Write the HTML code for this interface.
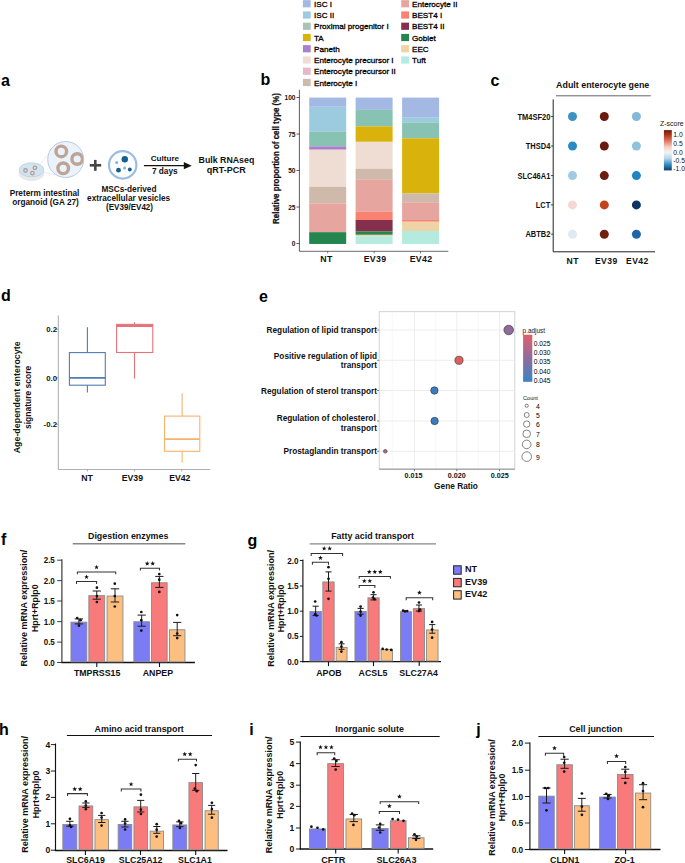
<!DOCTYPE html>
<html><head><meta charset="utf-8"><style>
html,body{margin:0;padding:0;background:#fff;width:685px;height:863px;overflow:hidden}
svg{display:block}
text{font-family:"Liberation Sans", sans-serif}
</style></head><body>
<svg width="685" height="863" viewBox="0 0 685 863">
<rect width="685" height="863" fill="#fff"/>
<text transform="translate(1.0 85.6)" font-size="16" font-weight="bold" text-anchor="start" fill="#000" >a</text>
<text transform="translate(260.5 85.4)" font-size="16" font-weight="bold" text-anchor="start" fill="#000" >b</text>
<text transform="translate(490.4 86.3)" font-size="16" font-weight="bold" text-anchor="start" fill="#000" >c</text>
<text transform="translate(1.0 301.4)" font-size="16" font-weight="bold" text-anchor="start" fill="#000" >d</text>
<text transform="translate(259.0 301.9)" font-size="16" font-weight="bold" text-anchor="start" fill="#000" >e</text>
<text transform="translate(0.9 544.7)" font-size="16" font-weight="bold" text-anchor="start" fill="#000" >f</text>
<text transform="translate(247.6 546.0)" font-size="16" font-weight="bold" text-anchor="start" fill="#000" >g</text>
<text transform="translate(-1.0 735.2)" font-size="16" font-weight="bold" text-anchor="start" fill="#000" >h</text>
<text transform="translate(249.2 735.2)" font-size="16" font-weight="bold" text-anchor="start" fill="#000" >i</text>
<text transform="translate(476.3 735.2)" font-size="16" font-weight="bold" text-anchor="start" fill="#000" >j</text>
<g>
<ellipse cx="31.5" cy="173.6" rx="12.4" ry="7.1" fill="#e9e9ea" stroke="#dcdcdc" stroke-width="0.5"/>
<ellipse cx="31.5" cy="169.8" rx="12.3" ry="7.0" fill="#d3e4f1" stroke="#aecbe2" stroke-width="0.7"/>
<circle cx="25.5" cy="170.5" r="1.75" fill="none" stroke="#b99d8d" stroke-width="1.3"/>
<circle cx="32.4" cy="173.2" r="1.75" fill="none" stroke="#b99d8d" stroke-width="1.3"/>
<circle cx="34.9" cy="167.8" r="1.75" fill="none" stroke="#b99d8d" stroke-width="1.3"/>
<line x1="40.1" y1="164.3" x2="48.5" y2="154.0" stroke="#c5ccd6" stroke-width="0.55" stroke-dasharray="1.2 0.5"/>
<line x1="44.2" y1="172.2" x2="56.5" y2="175.2" stroke="#c5ccd6" stroke-width="0.55" stroke-dasharray="1.2 0.5"/>
<circle cx="65.7" cy="159.5" r="18" fill="#eaf2fb" stroke="#9fb8d4" stroke-width="0.7"/>
<clipPath id="bc"><circle cx="65.7" cy="159.5" r="17.6"/></clipPath>
<g clip-path="url(#bc)">
<circle cx="61.3" cy="151.4" r="5.3" fill="none" stroke="#bea494" stroke-width="3.4"/>
<circle cx="77.2" cy="159" r="5.3" fill="none" stroke="#bea494" stroke-width="3.4"/>
<circle cx="63.2" cy="168.3" r="5.3" fill="none" stroke="#bea494" stroke-width="3.4"/>
</g>
<rect x="89.8" y="164.0" width="11.4" height="2.6" fill="#474747" />
<rect x="94.0" y="159.9" width="2.6" height="10.9" fill="#474747" />
<circle cx="122.7" cy="164.9" r="13.7" fill="#fdfeff" stroke="#9dbbe3" stroke-width="2.2"/>
<circle cx="124.8" cy="159.2" r="3.2" fill="#115f93" />
<circle cx="116.7" cy="162.5" r="1.5" fill="#86b3d3" />
<circle cx="118.5" cy="170.2" r="2.4" fill="#115f93" />
<circle cx="124.6" cy="167.9" r="1.5" fill="#86b3d3" />
<circle cx="129.8" cy="169.5" r="1.9" fill="#115f93" />
<line x1="143.9" y1="165.7" x2="184.5" y2="165.7" stroke="#111" stroke-width="1.3" />
<path d="M183.8 162.1 L191.7 165.7 L183.8 169.3 Z" fill="#111"/>
</g>
<text transform="translate(44.5 195.9)" font-size="8.25" font-weight="bold" text-anchor="middle" fill="#111" >Preterm intestinal</text>
<text transform="translate(45.5 204.6)" font-size="8.25" font-weight="bold" text-anchor="middle" fill="#111" >organoid (GA 27)</text>
<text transform="translate(128.9 191.6)" font-size="8.25" font-weight="bold" text-anchor="middle" fill="#111" >MSCs-derived</text>
<text transform="translate(128.6 200.6)" font-size="8.25" font-weight="bold" text-anchor="middle" fill="#111" >extracellular vesicles</text>
<text transform="translate(129.5 209.9) scale(0.94 1)" font-size="8.6" font-weight="bold" text-anchor="middle" fill="#111" >(EV39/EV42)</text>
<text transform="translate(164.9 161.4)" font-size="8.1" font-weight="bold" text-anchor="middle" fill="#111" >Culture</text>
<text transform="translate(164.8 174.4)" font-size="8.3" font-weight="bold" text-anchor="middle" fill="#111" >7 days</text>
<text transform="translate(226.4 162.5)" font-size="8.8" font-weight="bold" text-anchor="middle" fill="#111" >Bulk RNAseq</text>
<text transform="translate(226.3 173.0)" font-size="9.0" font-weight="bold" text-anchor="middle" fill="#111" >qRT-PCR</text>
<rect x="302.9" y="0.15" width="7.8" height="7.2" fill="#a3b9e3" />
<text transform="translate(314 6.75)" font-size="8.1" font-weight="normal" text-anchor="start" fill="#000" stroke="#000" stroke-width="0.3">ISC I</text>
<rect x="302.9" y="11.4" width="7.8" height="7.2" fill="#9ccbdf" />
<text transform="translate(314 18.0)" font-size="8.1" font-weight="normal" text-anchor="start" fill="#000" stroke="#000" stroke-width="0.3">ISC II</text>
<rect x="302.9" y="22.65" width="7.8" height="7.2" fill="#a7c4b8" />
<text transform="translate(314 29.25)" font-size="8.1" font-weight="normal" text-anchor="start" fill="#000" stroke="#000" stroke-width="0.3">Proximal progenitor I</text>
<rect x="302.9" y="33.9" width="7.8" height="7.2" fill="#d9b30b" />
<text transform="translate(314 40.5)" font-size="8.1" font-weight="normal" text-anchor="start" fill="#000" stroke="#000" stroke-width="0.3">TA</text>
<rect x="302.9" y="45.15" width="7.8" height="7.2" fill="#a880cb" />
<text transform="translate(314 51.75)" font-size="8.1" font-weight="normal" text-anchor="start" fill="#000" stroke="#000" stroke-width="0.3">Paneth</text>
<rect x="302.9" y="56.4" width="7.8" height="7.2" fill="#efdcd3" />
<text transform="translate(314 63.0)" font-size="8.1" font-weight="normal" text-anchor="start" fill="#000" stroke="#000" stroke-width="0.3">Enterocyte precursor I</text>
<rect x="302.9" y="67.65" width="7.8" height="7.2" fill="#e8b8c9" />
<text transform="translate(314 74.25)" font-size="8.1" font-weight="normal" text-anchor="start" fill="#000" stroke="#000" stroke-width="0.3">Enterocyte precursor II</text>
<rect x="302.9" y="78.9" width="7.8" height="7.2" fill="#cfb9aa" />
<text transform="translate(314 85.5)" font-size="8.1" font-weight="normal" text-anchor="start" fill="#000" stroke="#000" stroke-width="0.3">Enterocyte I</text>
<rect x="401.2" y="0.15" width="7.8" height="7.2" fill="#e6a59f" />
<text transform="translate(412 6.75)" font-size="8.1" font-weight="normal" text-anchor="start" fill="#000" stroke="#000" stroke-width="0.3">Enterocyte II</text>
<rect x="401.2" y="11.4" width="7.8" height="7.2" fill="#f98171" />
<text transform="translate(412 18.0)" font-size="8.1" font-weight="normal" text-anchor="start" fill="#000" stroke="#000" stroke-width="0.3">BEST4 I</text>
<rect x="401.2" y="22.65" width="7.8" height="7.2" fill="#842f4c" />
<text transform="translate(412 29.25)" font-size="8.1" font-weight="normal" text-anchor="start" fill="#000" stroke="#000" stroke-width="0.3">BEST4 II</text>
<rect x="401.2" y="33.9" width="7.8" height="7.2" fill="#24854f" />
<text transform="translate(412 40.5)" font-size="8.1" font-weight="normal" text-anchor="start" fill="#000" stroke="#000" stroke-width="0.3">Goblet</text>
<rect x="401.2" y="45.15" width="7.8" height="7.2" fill="#edd3a6" />
<text transform="translate(412 51.75)" font-size="8.1" font-weight="normal" text-anchor="start" fill="#000" stroke="#000" stroke-width="0.3">EEC</text>
<rect x="401.2" y="56.4" width="7.8" height="7.2" fill="#b5ebdf" />
<text transform="translate(412 63.0)" font-size="8.1" font-weight="normal" text-anchor="start" fill="#000" stroke="#000" stroke-width="0.3">Tuft</text>
<line x1="299.4" y1="89.8" x2="299.4" y2="251.3" stroke="#333" stroke-width="0.8" />
<line x1="299.4" y1="251.3" x2="448.3" y2="251.3" stroke="#444" stroke-width="0.8" />
<line x1="327.7" y1="251.3" x2="327.7" y2="253.3" stroke="#444" stroke-width="0.7" />
<line x1="374.2" y1="251.3" x2="374.2" y2="253.3" stroke="#444" stroke-width="0.7" />
<line x1="420.6" y1="251.3" x2="420.6" y2="253.3" stroke="#444" stroke-width="0.7" />
<line x1="296.5" y1="243.5" x2="299.4" y2="243.5" stroke="#333" stroke-width="0.8" />
<text transform="translate(295.5 246.0) scale(0.92 1)" font-size="7.2" font-weight="bold" text-anchor="end" fill="#111" >0</text>
<line x1="296.5" y1="207.0" x2="299.4" y2="207.0" stroke="#333" stroke-width="0.8" />
<text transform="translate(295.5 209.5) scale(0.92 1)" font-size="7.2" font-weight="bold" text-anchor="end" fill="#111" >25</text>
<line x1="296.5" y1="170.5" x2="299.4" y2="170.5" stroke="#333" stroke-width="0.8" />
<text transform="translate(295.5 173.0) scale(0.92 1)" font-size="7.2" font-weight="bold" text-anchor="end" fill="#111" >50</text>
<line x1="296.5" y1="134.0" x2="299.4" y2="134.0" stroke="#333" stroke-width="0.8" />
<text transform="translate(295.5 136.5) scale(0.92 1)" font-size="7.2" font-weight="bold" text-anchor="end" fill="#111" >75</text>
<line x1="296.5" y1="97.5" x2="299.4" y2="97.5" stroke="#333" stroke-width="0.8" />
<text transform="translate(295.5 100.0) scale(0.92 1)" font-size="7.2" font-weight="bold" text-anchor="end" fill="#111" >100</text>
<text transform="translate(279.3 158.5) rotate(-90) scale(0.845 1)" font-size="9.4" font-weight="bold" text-anchor="middle" fill="#111" stroke="#111" stroke-width="0.25">Relative proportion of cell type (%)</text>
<rect x="309.2" y="97.6" width="37" height="9.15" fill="#a3b9e3" />
<rect x="309.2" y="106.7" width="37" height="24.85" fill="#9ccbdf" />
<rect x="309.2" y="131.5" width="37" height="14.95" fill="#88c2b2" />
<rect x="309.2" y="146.4" width="37" height="3.35" fill="#a880cb" />
<rect x="309.2" y="149.7" width="37" height="37.25" fill="#efdcd3" />
<rect x="309.2" y="186.9" width="37" height="16.65" fill="#cfb9aa" />
<rect x="309.2" y="203.5" width="37" height="28.75" fill="#e6a59f" />
<rect x="309.2" y="232.2" width="37" height="11.75" fill="#24854f" />
<rect x="355.6" y="97.6" width="37" height="12.25" fill="#a3b9e3" />
<rect x="355.6" y="109.8" width="37" height="16.65" fill="#88c2b2" />
<rect x="355.6" y="126.4" width="37" height="15.45" fill="#d9b30b" />
<rect x="355.6" y="141.8" width="37" height="27.15" fill="#efdcd3" />
<rect x="355.6" y="168.9" width="37" height="10.75" fill="#cfb9aa" />
<rect x="355.6" y="179.6" width="37" height="32.05" fill="#e6a59f" />
<rect x="355.6" y="211.6" width="37" height="8.45" fill="#f98171" />
<rect x="355.6" y="220" width="37" height="11.55" fill="#842f4c" />
<rect x="355.6" y="231.5" width="37" height="3.35" fill="#24854f" />
<rect x="355.6" y="234.8" width="37" height="1.65" fill="#edd3a6" />
<rect x="355.6" y="236.4" width="37" height="7.55" fill="#b5ebdf" />
<rect x="402.1" y="97.6" width="37" height="19.65" fill="#a3b9e3" />
<rect x="402.1" y="117.2" width="37" height="5.45" fill="#9ccbdf" />
<rect x="402.1" y="122.6" width="37" height="15.75" fill="#88c2b2" />
<rect x="402.1" y="138.3" width="37" height="55.15" fill="#d9b30b" />
<rect x="402.1" y="193.4" width="37" height="8.95" fill="#cfb9aa" />
<rect x="402.1" y="202.3" width="37" height="17.75" fill="#e6a59f" />
<rect x="402.1" y="220" width="37" height="1.75" fill="#f98171" />
<rect x="402.1" y="221.7" width="37" height="9.35" fill="#edd3a6" />
<rect x="402.1" y="231" width="37" height="12.95" fill="#b5ebdf" />
<text transform="translate(326.5 262.0)" font-size="8.8" font-weight="bold" text-anchor="middle" fill="#111" letter-spacing="0.3">NT</text>
<text transform="translate(375.0 262.0)" font-size="8.8" font-weight="bold" text-anchor="middle" fill="#111" letter-spacing="0.3">EV39</text>
<text transform="translate(421.0 262.0)" font-size="8.8" font-weight="bold" text-anchor="middle" fill="#111" letter-spacing="0.3">EV42</text>
<text transform="translate(602.7 88.2)" font-size="8.9" font-weight="bold" text-anchor="middle" fill="#111" >Adult enterocyte gene</text>
<line x1="556" y1="95.8" x2="650.8" y2="95.8" stroke="#666" stroke-width="1" />
<line x1="553.2" y1="99.3" x2="553.2" y2="251.8" stroke="#222" stroke-width="1" />
<line x1="553.2" y1="251.8" x2="655.1" y2="251.8" stroke="#222" stroke-width="1" />
<text transform="translate(550.3 119.5) scale(0.87 1)" font-size="8.6" font-weight="bold" text-anchor="end" fill="#111" >TM4SF20</text>
<line x1="550.8" y1="116.5" x2="553.2" y2="116.5" stroke="#222" stroke-width="0.8" />
<circle cx="572.5" cy="116.5" r="4.5" fill="#3b93c4" />
<circle cx="604.3" cy="116.5" r="4.5" fill="#6a1a0e" />
<circle cx="636.4" cy="116.5" r="4.5" fill="#82b8d7" />
<text transform="translate(550.3 149.0) scale(0.87 1)" font-size="8.6" font-weight="bold" text-anchor="end" fill="#111" >THSD4</text>
<line x1="550.8" y1="146" x2="553.2" y2="146" stroke="#222" stroke-width="0.8" />
<circle cx="572.5" cy="146" r="4.5" fill="#2a8bc3" />
<circle cx="604.3" cy="146" r="4.5" fill="#6b1a10" />
<circle cx="636.4" cy="146" r="4.5" fill="#90c1dd" />
<text transform="translate(550.3 178.6) scale(0.87 1)" font-size="8.6" font-weight="bold" text-anchor="end" fill="#111" >SLC46A1</text>
<line x1="550.8" y1="175.6" x2="553.2" y2="175.6" stroke="#222" stroke-width="0.8" />
<circle cx="572.5" cy="175.6" r="4.5" fill="#a1c9e1" />
<circle cx="604.3" cy="175.6" r="4.5" fill="#6d1c10" />
<circle cx="636.4" cy="175.6" r="4.5" fill="#1f86c1" />
<text transform="translate(550.3 207.9) scale(0.87 1)" font-size="8.6" font-weight="bold" text-anchor="end" fill="#111" >LCT</text>
<line x1="550.8" y1="204.9" x2="553.2" y2="204.9" stroke="#222" stroke-width="0.8" />
<circle cx="572.5" cy="204.9" r="4.5" fill="#f4d8d3" />
<circle cx="604.3" cy="204.9" r="4.5" fill="#c2421b" />
<circle cx="636.4" cy="204.9" r="4.5" fill="#0c3563" />
<text transform="translate(550.3 237.2) scale(0.87 1)" font-size="8.6" font-weight="bold" text-anchor="end" fill="#111" >ABTB2</text>
<line x1="550.8" y1="234.2" x2="553.2" y2="234.2" stroke="#222" stroke-width="0.8" />
<circle cx="572.5" cy="234.2" r="4.5" fill="#dfe9f2" />
<circle cx="604.3" cy="234.2" r="4.5" fill="#73200f" />
<circle cx="636.4" cy="234.2" r="4.5" fill="#1e66a7" />
<text transform="translate(572.7 263.8)" font-size="8.6" font-weight="bold" text-anchor="middle" fill="#111" letter-spacing="0.45">NT</text>
<text transform="translate(606.3 263.8)" font-size="8.6" font-weight="bold" text-anchor="middle" fill="#111" letter-spacing="0.45">EV39</text>
<text transform="translate(637.4 263.8)" font-size="8.6" font-weight="bold" text-anchor="middle" fill="#111" letter-spacing="0.45">EV42</text>
<defs><linearGradient id="zg" x1="0" y1="0" x2="0" y2="1"><stop offset="0" stop-color="#6b1a0e"/><stop offset="0.12" stop-color="#b2341c"/><stop offset="0.27" stop-color="#de7a63"/><stop offset="0.42" stop-color="#f6cfc3"/><stop offset="0.55" stop-color="#f3f3f3"/><stop offset="0.70" stop-color="#b8d6e8"/><stop offset="0.84" stop-color="#3f93c5"/><stop offset="1" stop-color="#0a3b70"/></linearGradient><linearGradient id="pg" x1="0" y1="0" x2="0" y2="1"><stop offset="0" stop-color="#e2606b"/><stop offset="0.5" stop-color="#8e6d9d"/><stop offset="1" stop-color="#3a83c5"/></linearGradient></defs>
<rect x="663.9" y="130.1" width="7.9" height="40.3" fill="url(#zg)" />
<text transform="translate(659.9 125.9)" font-size="7.0" font-weight="normal" text-anchor="start" fill="#111" >Z-score</text>
<text transform="translate(673.3 137.0)" font-size="6.8" font-weight="normal" text-anchor="start" fill="#111" >1.0</text>
<text transform="translate(673.3 146.0)" font-size="6.8" font-weight="normal" text-anchor="start" fill="#111" >0.5</text>
<text transform="translate(673.3 154.9)" font-size="6.8" font-weight="normal" text-anchor="start" fill="#111" >0.0</text>
<text transform="translate(673.3 163.0)" font-size="6.8" font-weight="normal" text-anchor="start" fill="#111" >-0.5</text>
<text transform="translate(673.3 171.10000000000002)" font-size="6.8" font-weight="normal" text-anchor="start" fill="#111" >-1.0</text>
<line x1="58.3" y1="315.5" x2="58.3" y2="469.5" stroke="#a8a8a8" stroke-width="1" />
<line x1="58.3" y1="469.5" x2="210.3" y2="469.5" stroke="#b0b0b0" stroke-width="1.1" />
<line x1="55.8" y1="329.3" x2="58.3" y2="329.3" stroke="#999" stroke-width="0.8" />
<text transform="translate(57.0 332.1)" font-size="7.8" font-weight="bold" text-anchor="end" fill="#111" >0.2</text>
<line x1="55.8" y1="377.9" x2="58.3" y2="377.9" stroke="#999" stroke-width="0.8" />
<text transform="translate(57.0 380.7)" font-size="7.8" font-weight="bold" text-anchor="end" fill="#111" >0.0</text>
<line x1="55.8" y1="424.4" x2="58.3" y2="424.4" stroke="#999" stroke-width="0.8" />
<text transform="translate(57.0 427.2)" font-size="7.8" font-weight="bold" text-anchor="end" fill="#111" >-0.2</text>
<g stroke="#4f7db4" fill="none" stroke-width="1.1">
<line x1="87.4" y1="327.3" x2="87.4" y2="352.6"/><line x1="87.4" y1="385.2" x2="87.4" y2="392.4"/>
<rect x="69.4" y="352.6" width="35.89999999999999" height="32.599999999999966"/>
<line x1="69.4" y1="377.9" x2="105.3" y2="377.9" stroke-width="1.8"/>
</g>
<g stroke="#e5727a" fill="none" stroke-width="1.1">
<line x1="134.5" y1="322.2" x2="134.5" y2="324.4"/><line x1="134.5" y1="352.5" x2="134.5" y2="378.6"/>
<rect x="116.6" y="324.4" width="36.20000000000002" height="28.100000000000023"/>
<line x1="116.6" y1="326.0" x2="152.8" y2="326.0" stroke-width="2.2"/>
</g>
<g stroke="#f8b26c" fill="none" stroke-width="1.1">
<line x1="182.1" y1="393.3" x2="182.1" y2="416.1"/><line x1="182.1" y1="451.3" x2="182.1" y2="462.4"/>
<rect x="164.5" y="416.1" width="35.30000000000001" height="35.19999999999999"/>
<line x1="164.5" y1="439.1" x2="199.8" y2="439.1" stroke-width="1.8"/>
</g>
<line x1="87.4" y1="469.5" x2="87.4" y2="471.5" stroke="#999" stroke-width="0.8" />
<text transform="translate(87 480.6)" font-size="8.7" font-weight="bold" text-anchor="middle" fill="#111" >NT</text>
<line x1="134.4" y1="469.5" x2="134.4" y2="471.5" stroke="#999" stroke-width="0.8" />
<text transform="translate(132.4 480.6)" font-size="8.7" font-weight="bold" text-anchor="middle" fill="#111" >EV39</text>
<line x1="181.8" y1="469.5" x2="181.8" y2="471.5" stroke="#999" stroke-width="0.8" />
<text transform="translate(179.8 480.6)" font-size="8.7" font-weight="bold" text-anchor="middle" fill="#111" >EV42</text>
<text transform="translate(19.5 397.4) rotate(-90)" font-size="8.9" font-weight="bold" text-anchor="middle" fill="#111" >Age-dependent enterocyte</text>
<text transform="translate(31 397.4) rotate(-90)" font-size="8.5" font-weight="bold" text-anchor="middle" fill="#111" >signature score</text>
<rect x="379.2" y="311.7" width="135.6" height="157.3" fill="#fff" stroke="#c8c8c8" stroke-width="0.8"/>
<line x1="392.2" y1="312" x2="392.2" y2="469" stroke="#f2f2f2" stroke-width="0.6" />
<line x1="435.7" y1="312" x2="435.7" y2="469" stroke="#f2f2f2" stroke-width="0.6" />
<line x1="478.2" y1="312" x2="478.2" y2="469" stroke="#f2f2f2" stroke-width="0.6" />
<line x1="414.4" y1="312" x2="414.4" y2="469" stroke="#e8e8e8" stroke-width="0.8" />
<line x1="456.8" y1="312" x2="456.8" y2="469" stroke="#e8e8e8" stroke-width="0.8" />
<line x1="499.5" y1="312" x2="499.5" y2="469" stroke="#e8e8e8" stroke-width="0.8" />
<line x1="379.2" y1="330.0" x2="514.8" y2="330.0" stroke="#e8e8e8" stroke-width="0.8" />
<line x1="377.2" y1="330.0" x2="379.2" y2="330.0" stroke="#555" stroke-width="0.8" />
<line x1="379.2" y1="360.3" x2="514.8" y2="360.3" stroke="#e8e8e8" stroke-width="0.8" />
<line x1="377.2" y1="360.3" x2="379.2" y2="360.3" stroke="#555" stroke-width="0.8" />
<line x1="379.2" y1="390.5" x2="514.8" y2="390.5" stroke="#e8e8e8" stroke-width="0.8" />
<line x1="377.2" y1="390.5" x2="379.2" y2="390.5" stroke="#555" stroke-width="0.8" />
<line x1="379.2" y1="421.0" x2="514.8" y2="421.0" stroke="#e8e8e8" stroke-width="0.8" />
<line x1="377.2" y1="421.0" x2="379.2" y2="421.0" stroke="#555" stroke-width="0.8" />
<line x1="379.2" y1="451.3" x2="514.8" y2="451.3" stroke="#e8e8e8" stroke-width="0.8" />
<line x1="377.2" y1="451.3" x2="379.2" y2="451.3" stroke="#555" stroke-width="0.8" />
<line x1="379.2" y1="469.2" x2="514.8" y2="469.2" stroke="#888" stroke-width="0.9" />
<line x1="414.4" y1="469.2" x2="414.4" y2="471.2" stroke="#555" stroke-width="0.8" />
<line x1="456.8" y1="469.2" x2="456.8" y2="471.2" stroke="#555" stroke-width="0.8" />
<line x1="499.5" y1="469.2" x2="499.5" y2="471.2" stroke="#555" stroke-width="0.8" />
<circle cx="508.7" cy="330" r="4.8" fill="#8e6c99" stroke="#333" stroke-width="0.6"/>
<circle cx="459" cy="360.3" r="4.1" fill="#dc5f60" stroke="#333" stroke-width="0.6"/>
<circle cx="434.4" cy="390.5" r="3.7" fill="#3a7cc0" stroke="#333" stroke-width="0.6"/>
<circle cx="434.6" cy="421" r="3.7" fill="#3a7cc0" stroke="#333" stroke-width="0.6"/>
<circle cx="385.3" cy="451.3" r="1.8" fill="#b36b7e" stroke="#333" stroke-width="0.6"/>
<text transform="translate(377 332.8)" font-size="8.25" font-weight="bold" text-anchor="end" fill="#111" >Regulation of lipid transport</text>
<text transform="translate(377 358.5)" font-size="8.25" font-weight="bold" text-anchor="end" fill="#111" >Positive regulation of lipid</text>
<text transform="translate(377 368.3)" font-size="8.25" font-weight="bold" text-anchor="end" fill="#111" >transport</text>
<text transform="translate(377 393.5)" font-size="8.25" font-weight="bold" text-anchor="end" fill="#111" >Regulation of sterol transport</text>
<text transform="translate(375.7 421.1)" font-size="8.25" font-weight="bold" text-anchor="end" fill="#111" >Regulation of cholesterol</text>
<text transform="translate(377 430.5)" font-size="8.25" font-weight="bold" text-anchor="end" fill="#111" >transport</text>
<text transform="translate(377 454.3)" font-size="8.25" font-weight="bold" text-anchor="end" fill="#111" >Prostaglandin transport</text>
<text transform="translate(413.6 477.5) scale(0.91 1)" font-size="7.9" font-weight="bold" text-anchor="middle" fill="#111" >0.015</text>
<text transform="translate(456.8 477.5) scale(0.91 1)" font-size="7.9" font-weight="bold" text-anchor="middle" fill="#111" >0.020</text>
<text transform="translate(499.8 477.5) scale(0.91 1)" font-size="7.9" font-weight="bold" text-anchor="middle" fill="#111" >0.025</text>
<text transform="translate(456 488.8)" font-size="8.3" font-weight="bold" text-anchor="middle" fill="#111" >Gene Ratio</text>
<text transform="translate(522.6 332.7)" font-size="6.4" font-weight="normal" text-anchor="start" fill="#111" >p.adjust</text>
<rect x="523.1" y="334.7" width="9.2" height="47.1" fill="url(#pg)" />
<text transform="translate(533.7 345.90000000000003)" font-size="6.7" font-weight="normal" text-anchor="start" fill="#000" >0.025</text>
<text transform="translate(533.7 355.0)" font-size="6.7" font-weight="normal" text-anchor="start" fill="#000" >0.030</text>
<text transform="translate(533.7 364.40000000000003)" font-size="6.7" font-weight="normal" text-anchor="start" fill="#000" >0.035</text>
<text transform="translate(533.7 373.90000000000003)" font-size="6.7" font-weight="normal" text-anchor="start" fill="#000" >0.040</text>
<text transform="translate(533.7 383.0)" font-size="6.7" font-weight="normal" text-anchor="start" fill="#000" >0.045</text>
<text transform="translate(523 399.8)" font-size="5.6" font-weight="normal" text-anchor="start" fill="#111" >Count</text>
<circle cx="526.7" cy="405.8" r="1.6" fill="none" stroke="#333" stroke-width="0.6"/>
<text transform="translate(535.9 408.8)" font-size="6.8" font-weight="normal" text-anchor="start" fill="#000" >4</text>
<circle cx="526.7" cy="415" r="2.5" fill="none" stroke="#333" stroke-width="0.6"/>
<text transform="translate(535.9 418.0)" font-size="6.8" font-weight="normal" text-anchor="start" fill="#000" >5</text>
<circle cx="526.7" cy="424.1" r="3.2" fill="none" stroke="#333" stroke-width="0.6"/>
<text transform="translate(535.9 427.1)" font-size="6.8" font-weight="normal" text-anchor="start" fill="#000" >6</text>
<circle cx="526.7" cy="433.8" r="3.8" fill="none" stroke="#333" stroke-width="0.6"/>
<text transform="translate(535.9 436.8)" font-size="6.8" font-weight="normal" text-anchor="start" fill="#000" >7</text>
<circle cx="526.7" cy="444.4" r="4.3" fill="none" stroke="#333" stroke-width="0.6"/>
<text transform="translate(535.9 447.4)" font-size="6.8" font-weight="normal" text-anchor="start" fill="#000" >8</text>
<circle cx="526.7" cy="456.6" r="4.8" fill="none" stroke="#333" stroke-width="0.6"/>
<text transform="translate(535.9 459.6)" font-size="6.8" font-weight="normal" text-anchor="start" fill="#000" >9</text>
<text transform="translate(128.2 538.7)" font-size="8.9" font-weight="bold" text-anchor="middle" fill="#111" >Digestion enzymes</text>
<line x1="72.7" y1="543.7" x2="185.3" y2="543.7" stroke="#888" stroke-width="1.4" />
<line x1="61.9" y1="559.3" x2="61.9" y2="663.1" stroke="#333" stroke-width="1.15" />
<line x1="61.3" y1="662.5" x2="194.9" y2="662.5" stroke="#111" stroke-width="1.45" />
<line x1="57.199999999999996" y1="560.2" x2="61.9" y2="560.2" stroke="#333" stroke-width="0.95" />
<text transform="translate(54.8 563.25) scale(0.95 1)" font-size="8.4" font-weight="bold" text-anchor="end" fill="#111" >2.5</text>
<line x1="57.199999999999996" y1="580.6" x2="61.9" y2="580.6" stroke="#333" stroke-width="0.95" />
<text transform="translate(54.8 583.65) scale(0.95 1)" font-size="8.4" font-weight="bold" text-anchor="end" fill="#111" >2.0</text>
<line x1="57.199999999999996" y1="601.0" x2="61.9" y2="601.0" stroke="#333" stroke-width="0.95" />
<text transform="translate(54.8 604.05) scale(0.95 1)" font-size="8.4" font-weight="bold" text-anchor="end" fill="#111" >1.5</text>
<line x1="57.199999999999996" y1="621.6" x2="61.9" y2="621.6" stroke="#333" stroke-width="0.95" />
<text transform="translate(54.8 624.65) scale(0.95 1)" font-size="8.4" font-weight="bold" text-anchor="end" fill="#111" >1.0</text>
<line x1="57.199999999999996" y1="642.1" x2="61.9" y2="642.1" stroke="#333" stroke-width="0.95" />
<text transform="translate(54.8 645.15) scale(0.95 1)" font-size="8.4" font-weight="bold" text-anchor="end" fill="#111" >0.5</text>
<line x1="57.199999999999996" y1="662.5" x2="61.9" y2="662.5" stroke="#333" stroke-width="0.95" />
<text transform="translate(54.8 665.55) scale(0.95 1)" font-size="8.4" font-weight="bold" text-anchor="end" fill="#111" >0.0</text>
<rect x="70.95" y="622.1500000000001" width="15.899999999999997" height="39.69999999999995" fill="#7b7bf6" stroke="#8a8a8a" stroke-width="0.9"/>
<rect x="88.85000000000001" y="595.6500000000001" width="15.799999999999988" height="66.19999999999996" fill="#f97a7a" stroke="#8a8a8a" stroke-width="0.9"/>
<rect x="107.05" y="596.0500000000001" width="15.900000000000011" height="65.79999999999998" fill="#fdbf80" stroke="#8a8a8a" stroke-width="0.9"/>
<rect x="133.85" y="621.75" width="15.6" height="40.100000000000044" fill="#7b7bf6" stroke="#8a8a8a" stroke-width="0.9"/>
<rect x="151.54999999999998" y="582.75" width="15.6" height="79.10000000000005" fill="#f97a7a" stroke="#8a8a8a" stroke-width="0.9"/>
<rect x="169.45" y="629.75" width="15.500000000000005" height="32.100000000000044" fill="#fdbf80" stroke="#8a8a8a" stroke-width="0.9"/>
<path d="M78.90 618.9 V623.9 M74.70 618.9 H83.10 M74.70 623.9 H83.10" stroke="#1a1a1a" stroke-width="1" fill="none"/>
<circle cx="77.2" cy="618" r="1.35" fill="#111" />
<circle cx="80.5" cy="620.2" r="1.35" fill="#111" />
<circle cx="79" cy="625.7" r="1.35" fill="#111" />
<path d="M96.75 591.0 V599.2 M92.58 591.0 H100.92 M92.58 599.2 H100.92" stroke="#1a1a1a" stroke-width="1" fill="none"/>
<circle cx="96.9" cy="587.7" r="1.35" fill="#111" />
<circle cx="96.9" cy="596.1" r="1.35" fill="#111" />
<circle cx="96.9" cy="602" r="1.35" fill="#111" />
<path d="M115.00 588.8 V602.0 M110.80 588.8 H119.20 M110.80 602.0 H119.20" stroke="#1a1a1a" stroke-width="1" fill="none"/>
<circle cx="114.8" cy="583.7" r="1.35" fill="#111" />
<circle cx="114.8" cy="596.1" r="1.35" fill="#111" />
<circle cx="114.8" cy="606.5" r="1.35" fill="#111" />
<path d="M141.65 615.1 V626.2 M137.53 615.1 H145.78 M137.53 626.2 H145.78" stroke="#1a1a1a" stroke-width="1" fill="none"/>
<circle cx="141.3" cy="612" r="1.35" fill="#111" />
<circle cx="141.3" cy="620.2" r="1.35" fill="#111" />
<circle cx="141.3" cy="630.6" r="1.35" fill="#111" />
<path d="M159.35 576.4 V587.4 M155.22 576.4 H163.47 M155.22 587.4 H163.47" stroke="#1a1a1a" stroke-width="1" fill="none"/>
<circle cx="159.3" cy="574.1" r="1.35" fill="#111" />
<circle cx="159.3" cy="579.7" r="1.35" fill="#111" />
<circle cx="159.3" cy="591.9" r="1.35" fill="#111" />
<path d="M177.20 622.4 V635.7 M173.10 622.4 H181.30 M173.10 635.7 H181.30" stroke="#1a1a1a" stroke-width="1" fill="none"/>
<circle cx="177.2" cy="615.1" r="1.35" fill="#111" />
<circle cx="177.2" cy="633.5" r="1.35" fill="#111" />
<circle cx="177.2" cy="638.1" r="1.35" fill="#111" />
<path d="M76.5 583.9 V581.5 H96.6 V583.9" fill="none" stroke="#333" stroke-width="1.05"/>
<polygon points="86.55,574.50 87.17,576.15 88.93,576.23 87.55,577.32 88.02,579.02 86.55,578.05 85.08,579.02 85.55,577.32 84.17,576.23 85.93,576.15" fill="#111"/>
<path d="M77.4 574.3 V571.9 H115.7 V574.3" fill="none" stroke="#333" stroke-width="1.05"/>
<polygon points="96.55,564.80 97.17,566.45 98.93,566.53 97.55,567.62 98.02,569.32 96.55,568.35 95.08,569.32 95.55,567.62 94.17,566.53 95.93,566.45" fill="#111"/>
<path d="M140.4 570.6 V568.2 H159.5 V570.6" fill="none" stroke="#333" stroke-width="1.05"/>
<polygon points="147.20,561.10 147.82,562.75 149.58,562.83 148.20,563.92 148.67,565.62 147.20,564.65 145.73,565.62 146.20,563.92 144.82,562.83 146.58,562.75" fill="#111"/>
<polygon points="152.70,561.10 153.32,562.75 155.08,562.83 153.70,563.92 154.17,565.62 152.70,564.65 151.23,565.62 151.70,563.92 150.32,562.83 152.08,562.75" fill="#111"/>
<line x1="96.8" y1="662.5" x2="96.8" y2="667.0" stroke="#111" stroke-width="1.1" />
<text transform="translate(97.1 676.0)" font-size="8.8" font-weight="bold" text-anchor="middle" fill="#111" >TMPRSS15</text>
<line x1="159.5" y1="662.5" x2="159.5" y2="667.0" stroke="#111" stroke-width="1.1" />
<text transform="translate(157.9 676.0)" font-size="8.8" font-weight="bold" text-anchor="middle" fill="#111" >ANPEP</text>
<text transform="translate(27.2 608.2) rotate(-90)" font-size="9.0" font-weight="bold" text-anchor="middle" fill="#111" >Relative mRNA expression/</text>
<text transform="translate(37.6 608.2) rotate(-90)" font-size="8.8" font-weight="bold" text-anchor="middle" fill="#111" >Hprt+Rplp0</text>
<text transform="translate(372.6 539.0)" font-size="8.9" font-weight="bold" text-anchor="middle" fill="#111" >Fatty acid transport</text>
<line x1="309.7" y1="543.9" x2="436.0" y2="543.9" stroke="#888" stroke-width="1.4" />
<line x1="302.9" y1="559.5" x2="302.9" y2="662.2" stroke="#111" stroke-width="1.15" />
<line x1="302.29999999999995" y1="661.6" x2="441.0" y2="661.6" stroke="#111" stroke-width="1.45" />
<line x1="299.9" y1="560.5" x2="302.9" y2="560.5" stroke="#111" stroke-width="0.95" />
<text transform="translate(298.5 563.55) scale(0.97 1)" font-size="8.4" font-weight="bold" text-anchor="end" fill="#111" >2.0</text>
<line x1="299.9" y1="586.0" x2="302.9" y2="586.0" stroke="#111" stroke-width="0.95" />
<text transform="translate(298.5 589.05) scale(0.97 1)" font-size="8.4" font-weight="bold" text-anchor="end" fill="#111" >1.5</text>
<line x1="299.9" y1="611.2" x2="302.9" y2="611.2" stroke="#111" stroke-width="0.95" />
<text transform="translate(298.5 614.25) scale(0.97 1)" font-size="8.4" font-weight="bold" text-anchor="end" fill="#111" >1.0</text>
<line x1="299.9" y1="636.4" x2="302.9" y2="636.4" stroke="#111" stroke-width="0.95" />
<text transform="translate(298.5 639.4499999999999) scale(0.97 1)" font-size="8.4" font-weight="bold" text-anchor="end" fill="#111" >0.5</text>
<line x1="299.9" y1="661.6" x2="302.9" y2="661.6" stroke="#111" stroke-width="0.95" />
<text transform="translate(298.5 664.65) scale(0.97 1)" font-size="8.4" font-weight="bold" text-anchor="end" fill="#111" >0.0</text>
<rect x="309.95" y="611.5500000000001" width="11.400000000000011" height="49.4" fill="#7b7bf6" stroke="#8a8a8a" stroke-width="0.9"/>
<rect x="322.84999999999997" y="581.95" width="11.300000000000045" height="79.00000000000003" fill="#f97a7a" stroke="#8a8a8a" stroke-width="0.9"/>
<rect x="336.15" y="647.35" width="10.900000000000011" height="13.600000000000046" fill="#fdbf80" stroke="#8a8a8a" stroke-width="0.9"/>
<rect x="354.95" y="611.5500000000001" width="11.299999999999988" height="49.4" fill="#7b7bf6" stroke="#8a8a8a" stroke-width="0.9"/>
<rect x="367.95" y="597.85" width="11.200000000000022" height="63.100000000000044" fill="#f97a7a" stroke="#8a8a8a" stroke-width="0.9"/>
<rect x="381.05" y="649.5500000000001" width="11.399999999999954" height="11.4" fill="#fdbf80" stroke="#8a8a8a" stroke-width="0.9"/>
<rect x="400.45" y="611.75" width="10.999999999999977" height="49.20000000000007" fill="#7b7bf6" stroke="#8a8a8a" stroke-width="0.9"/>
<rect x="413.34999999999997" y="608.6500000000001" width="11.200000000000022" height="52.299999999999976" fill="#f97a7a" stroke="#8a8a8a" stroke-width="0.9"/>
<rect x="426.45" y="629.95" width="11.6" height="31.00000000000002" fill="#fdbf80" stroke="#8a8a8a" stroke-width="0.9"/>
<path d="M315.65 606.2 V615.6 M312.57 606.2 H318.72 M312.57 615.6 H318.72" stroke="#1a1a1a" stroke-width="1" fill="none"/>
<circle cx="315.2" cy="601.5" r="1.35" fill="#111" />
<circle cx="315.2" cy="614.2" r="1.35" fill="#111" />
<circle cx="316.5" cy="615.5" r="1.35" fill="#111" />
<path d="M328.50 571.9 V591.1 M325.45 571.9 H331.55 M325.45 591.1 H331.55" stroke="#1a1a1a" stroke-width="1" fill="none"/>
<circle cx="328.5" cy="567.2" r="1.35" fill="#111" />
<circle cx="328.5" cy="578.8" r="1.35" fill="#111" />
<circle cx="328.5" cy="598.8" r="1.35" fill="#111" />
<path d="M341.60 643.8 V649.3 M338.65 643.8 H344.55 M338.65 649.3 H344.55" stroke="#1a1a1a" stroke-width="1" fill="none"/>
<circle cx="341.4" cy="642.2" r="1.35" fill="#111" />
<circle cx="341.4" cy="651.6" r="1.35" fill="#111" />
<circle cx="341.4" cy="646.5" r="1.35" fill="#111" />
<path d="M360.60 608.4 V614.2 M357.55 608.4 H363.65 M357.55 614.2 H363.65" stroke="#1a1a1a" stroke-width="1" fill="none"/>
<circle cx="360.6" cy="606.6" r="1.35" fill="#111" />
<circle cx="360.6" cy="615.6" r="1.35" fill="#111" />
<circle cx="360.6" cy="611.5" r="1.35" fill="#111" />
<path d="M373.55 594.7 V599.9 M370.52 594.7 H376.58 M370.52 599.9 H376.58" stroke="#1a1a1a" stroke-width="1" fill="none"/>
<circle cx="373.5" cy="592.3" r="1.35" fill="#111" />
<circle cx="374.5" cy="599.2" r="1.35" fill="#111" />
<circle cx="373" cy="597.5" r="1.35" fill="#111" />
<circle cx="382.7" cy="648.9" r="1.35" fill="#111" />
<circle cx="386.7" cy="649.5" r="1.35" fill="#111" />
<circle cx="391.2" cy="649.9" r="1.35" fill="#111" />
<circle cx="403.1" cy="610.7" r="1.35" fill="#111" />
<circle cx="405.1" cy="611.3" r="1.35" fill="#111" />
<circle cx="407.2" cy="611.1" r="1.35" fill="#111" />
<path d="M418.95 605.0 V611.1 M415.92 605.0 H421.98 M415.92 611.1 H421.98" stroke="#1a1a1a" stroke-width="1" fill="none"/>
<circle cx="419" cy="602.5" r="1.35" fill="#111" />
<circle cx="419" cy="611.1" r="1.35" fill="#111" />
<circle cx="420" cy="609.5" r="1.35" fill="#111" />
<path d="M432.25 624.6 V633.2 M429.12 624.6 H435.38 M429.12 633.2 H435.38" stroke="#1a1a1a" stroke-width="1" fill="none"/>
<circle cx="432.1" cy="621.9" r="1.35" fill="#111" />
<circle cx="432.1" cy="637.7" r="1.35" fill="#111" />
<circle cx="432.1" cy="629.5" r="1.35" fill="#111" />
<path d="M312.4 564.6999999999999 V562.3 H328.5 V564.6999999999999" fill="none" stroke="#333" stroke-width="1.05"/>
<polygon points="320.45,555.40 321.07,557.05 322.83,557.13 321.45,558.22 321.92,559.92 320.45,558.95 318.98,559.92 319.45,558.22 318.07,557.13 319.83,557.05" fill="#111"/>
<path d="M311.2 555.9 V553.5 H342.6 V555.9" fill="none" stroke="#333" stroke-width="1.05"/>
<polygon points="324.15,546.00 324.77,547.65 326.53,547.73 325.15,548.82 325.62,550.52 324.15,549.55 322.68,550.52 323.15,548.82 321.77,547.73 323.53,547.65" fill="#111"/>
<polygon points="329.65,546.00 330.27,547.65 332.03,547.73 330.65,548.82 331.12,550.52 329.65,549.55 328.18,550.52 328.65,548.82 327.27,547.73 329.03,547.65" fill="#111"/>
<path d="M359.2 587.9 V585.5 H374.9 V587.9" fill="none" stroke="#333" stroke-width="1.05"/>
<polygon points="364.30,578.50 364.92,580.15 366.68,580.23 365.30,581.32 365.77,583.02 364.30,582.05 362.83,583.02 363.30,581.32 361.92,580.23 363.68,580.15" fill="#111"/>
<polygon points="369.80,578.50 370.42,580.15 372.18,580.23 370.80,581.32 371.27,583.02 369.80,582.05 368.33,583.02 368.80,581.32 367.42,580.23 369.18,580.15" fill="#111"/>
<path d="M359.2 578.8 V576.4 H390.4 V578.8" fill="none" stroke="#333" stroke-width="1.05"/>
<polygon points="369.30,569.40 369.92,571.05 371.68,571.13 370.30,572.22 370.77,573.92 369.30,572.95 367.83,573.92 368.30,572.22 366.92,571.13 368.68,571.05" fill="#111"/>
<polygon points="374.80,569.40 375.42,571.05 377.18,571.13 375.80,572.22 376.27,573.92 374.80,572.95 373.33,573.92 373.80,572.22 372.42,571.13 374.18,571.05" fill="#111"/>
<polygon points="380.30,569.40 380.92,571.05 382.68,571.13 381.30,572.22 381.77,573.92 380.30,572.95 378.83,573.92 379.30,572.22 377.92,571.13 379.68,571.05" fill="#111"/>
<path d="M406.2 600.1999999999999 V597.8 H432.7 V600.1999999999999" fill="none" stroke="#333" stroke-width="1.05"/>
<polygon points="419.45,590.20 420.07,591.85 421.83,591.93 420.45,593.02 420.92,594.72 419.45,593.75 417.98,594.72 418.45,593.02 417.07,591.93 418.83,591.85" fill="#111"/>
<line x1="328.5" y1="661.6" x2="328.5" y2="666.1" stroke="#111" stroke-width="1.1" />
<text transform="translate(328.9 675.6)" font-size="8.8" font-weight="bold" text-anchor="middle" fill="#111" >APOB</text>
<line x1="373.5" y1="661.6" x2="373.5" y2="666.1" stroke="#111" stroke-width="1.1" />
<text transform="translate(373.0 675.6)" font-size="8.8" font-weight="bold" text-anchor="middle" fill="#111" >ACSL5</text>
<line x1="419.2" y1="661.6" x2="419.2" y2="666.1" stroke="#111" stroke-width="1.1" />
<text transform="translate(418.6 675.6)" font-size="8.8" font-weight="bold" text-anchor="middle" fill="#111" >SLC27A4</text>
<text transform="translate(273.6 608.4) rotate(-90)" font-size="9.0" font-weight="bold" text-anchor="middle" fill="#111" >Relative mRNA expression/</text>
<text transform="translate(283.9 608.4) rotate(-90)" font-size="8.8" font-weight="bold" text-anchor="middle" fill="#111" >Hprt+Rplp0</text>
<rect x="453.6" y="565.8" width="7.6" height="8.4" fill="#7b7bf6" stroke="#222" stroke-width="1"/>
<text transform="translate(465 571.9)" font-size="9.1" font-weight="bold" text-anchor="start" fill="#111" >NT</text>
<rect x="453.6" y="578.4" width="7.6" height="8.4" fill="#f97a7a" stroke="#222" stroke-width="1"/>
<text transform="translate(465 584.5)" font-size="9.1" font-weight="bold" text-anchor="start" fill="#111" >EV39</text>
<rect x="453.6" y="590.7" width="7.6" height="8.4" fill="#fdbf80" stroke="#222" stroke-width="1"/>
<text transform="translate(465 596.8000000000001)" font-size="9.1" font-weight="bold" text-anchor="start" fill="#111" >EV42</text>
<text transform="translate(139.2 731.6)" font-size="8.9" font-weight="bold" text-anchor="middle" fill="#111" >Amino acid transport</text>
<line x1="66.9" y1="735.5" x2="212.0" y2="735.5" stroke="#111" stroke-width="1.0" />
<line x1="55.5" y1="743.5" x2="55.5" y2="851.0" stroke="#111" stroke-width="1.15" />
<line x1="54.9" y1="850.4" x2="227.5" y2="850.4" stroke="#111" stroke-width="1.45" />
<line x1="50.9" y1="744.6" x2="55.5" y2="744.6" stroke="#111" stroke-width="0.95" />
<text transform="translate(50.4 747.65)" font-size="8.6" font-weight="bold" text-anchor="end" fill="#111" >4</text>
<line x1="50.9" y1="771.0" x2="55.5" y2="771.0" stroke="#111" stroke-width="0.95" />
<text transform="translate(50.4 774.05)" font-size="8.6" font-weight="bold" text-anchor="end" fill="#111" >3</text>
<line x1="50.9" y1="797.4" x2="55.5" y2="797.4" stroke="#111" stroke-width="0.95" />
<text transform="translate(50.4 800.4499999999999)" font-size="8.6" font-weight="bold" text-anchor="end" fill="#111" >2</text>
<line x1="50.9" y1="823.8" x2="55.5" y2="823.8" stroke="#111" stroke-width="0.95" />
<text transform="translate(50.4 826.8499999999999)" font-size="8.6" font-weight="bold" text-anchor="end" fill="#111" >1</text>
<line x1="50.9" y1="850.2" x2="55.5" y2="850.2" stroke="#111" stroke-width="0.95" />
<text transform="translate(50.4 853.25)" font-size="8.6" font-weight="bold" text-anchor="end" fill="#111" >0</text>
<rect x="62.85" y="824.5500000000001" width="13.999999999999998" height="25.199999999999953" fill="#7b7bf6" stroke="#8a8a8a" stroke-width="0.9"/>
<rect x="79.05" y="805.95" width="13.700000000000008" height="43.799999999999976" fill="#f97a7a" stroke="#8a8a8a" stroke-width="0.9"/>
<rect x="94.95" y="819.6500000000001" width="13.6" height="30.09999999999993" fill="#fdbf80" stroke="#8a8a8a" stroke-width="0.9"/>
<rect x="118.15" y="824.5500000000001" width="13.599999999999985" height="25.199999999999953" fill="#7b7bf6" stroke="#8a8a8a" stroke-width="0.9"/>
<rect x="133.95" y="806.85" width="13.500000000000005" height="42.9" fill="#f97a7a" stroke="#8a8a8a" stroke-width="0.9"/>
<rect x="150.14999999999998" y="831.1500000000001" width="13.300000000000017" height="18.59999999999993" fill="#fdbf80" stroke="#8a8a8a" stroke-width="0.9"/>
<rect x="172.85" y="824.95" width="13.899999999999983" height="24.799999999999976" fill="#7b7bf6" stroke="#8a8a8a" stroke-width="0.9"/>
<rect x="188.95" y="782.6500000000001" width="13.500000000000005" height="67.09999999999994" fill="#f97a7a" stroke="#8a8a8a" stroke-width="0.9"/>
<rect x="205.04999999999998" y="810.75" width="13.199999999999994" height="39.00000000000002" fill="#fdbf80" stroke="#8a8a8a" stroke-width="0.9"/>
<path d="M69.85 821.3 V826.2 M66.12 821.3 H73.57 M66.12 826.2 H73.57" stroke="#1a1a1a" stroke-width="1" fill="none"/>
<circle cx="69.9" cy="818.8" r="1.35" fill="#111" />
<circle cx="69.9" cy="825.4" r="1.35" fill="#111" />
<circle cx="71.1" cy="827" r="1.35" fill="#111" />
<path d="M85.90 803.0 V807.4 M82.25 803.0 H89.55 M82.25 807.4 H89.55" stroke="#1a1a1a" stroke-width="1" fill="none"/>
<circle cx="85.8" cy="801.4" r="1.35" fill="#111" />
<circle cx="85.8" cy="805.5" r="1.35" fill="#111" />
<circle cx="85.8" cy="809.2" r="1.35" fill="#111" />
<path d="M101.75 815.4 V822.5 M98.12 815.4 H105.38 M98.12 822.5 H105.38" stroke="#1a1a1a" stroke-width="1" fill="none"/>
<circle cx="101.6" cy="813" r="1.35" fill="#111" />
<circle cx="101.6" cy="817.5" r="1.35" fill="#111" />
<circle cx="101.6" cy="825.6" r="1.35" fill="#111" />
<path d="M124.95 821.3 V827.0 M121.32 821.3 H128.57 M121.32 827.0 H128.57" stroke="#1a1a1a" stroke-width="1" fill="none"/>
<circle cx="125.1" cy="819.4" r="1.35" fill="#111" />
<circle cx="125.1" cy="823.5" r="1.35" fill="#111" />
<circle cx="125.1" cy="829.5" r="1.35" fill="#111" />
<path d="M140.70 800.4 V812.0 M137.10 800.4 H144.30 M137.10 812.0 H144.30" stroke="#1a1a1a" stroke-width="1" fill="none"/>
<circle cx="140.9" cy="794.7" r="1.35" fill="#111" />
<circle cx="140.9" cy="809.6" r="1.35" fill="#111" />
<circle cx="140.9" cy="814" r="1.35" fill="#111" />
<path d="M156.80 826.5 V833.3 M153.25 826.5 H160.35 M153.25 833.3 H160.35" stroke="#1a1a1a" stroke-width="1" fill="none"/>
<circle cx="156.7" cy="824.2" r="1.35" fill="#111" />
<circle cx="156.7" cy="829.7" r="1.35" fill="#111" />
<circle cx="156.7" cy="836.6" r="1.35" fill="#111" />
<path d="M179.80 821.9 V826.7 M176.10 821.9 H183.50 M176.10 826.7 H183.50" stroke="#1a1a1a" stroke-width="1" fill="none"/>
<circle cx="179" cy="820.9" r="1.35" fill="#111" />
<circle cx="181" cy="823.2" r="1.35" fill="#111" />
<circle cx="179.9" cy="828" r="1.35" fill="#111" />
<path d="M195.70 773.5 V790.3 M192.10 773.5 H199.30 M192.10 790.3 H199.30" stroke="#1a1a1a" stroke-width="1" fill="none"/>
<circle cx="195.7" cy="765.1" r="1.35" fill="#111" />
<circle cx="194.8" cy="788.6" r="1.35" fill="#111" />
<circle cx="196.8" cy="791.2" r="1.35" fill="#111" />
<path d="M211.65 805.4 V814.2 M208.12 805.4 H215.17 M208.12 814.2 H215.17" stroke="#1a1a1a" stroke-width="1" fill="none"/>
<circle cx="211.9" cy="802.8" r="1.35" fill="#111" />
<circle cx="211.9" cy="809" r="1.35" fill="#111" />
<circle cx="211.9" cy="817.7" r="1.35" fill="#111" />
<path d="M67.5 796.0 V793.6 H87.4 V796.0" fill="none" stroke="#333" stroke-width="1.05"/>
<polygon points="74.70,786.60 75.32,788.25 77.08,788.33 75.70,789.42 76.17,791.12 74.70,790.15 73.23,791.12 73.70,789.42 72.32,788.33 74.08,788.25" fill="#111"/>
<polygon points="80.20,786.60 80.82,788.25 82.58,788.33 81.20,789.42 81.67,791.12 80.20,790.15 78.73,791.12 79.20,789.42 77.82,788.33 79.58,788.25" fill="#111"/>
<path d="M121.3 791.4 V789.0 H140.9 V791.4" fill="none" stroke="#333" stroke-width="1.05"/>
<polygon points="131.10,781.80 131.72,783.45 133.48,783.53 132.10,784.62 132.57,786.32 131.10,785.35 129.63,786.32 130.10,784.62 128.72,783.53 130.48,783.45" fill="#111"/>
<path d="M178.4 761.6 V759.2 H196.5 V761.6" fill="none" stroke="#333" stroke-width="1.05"/>
<polygon points="184.70,751.70 185.32,753.35 187.08,753.43 185.70,754.52 186.17,756.22 184.70,755.25 183.23,756.22 183.70,754.52 182.32,753.43 184.08,753.35" fill="#111"/>
<polygon points="190.20,751.70 190.82,753.35 192.58,753.43 191.20,754.52 191.67,756.22 190.20,755.25 188.73,756.22 189.20,754.52 187.82,753.43 189.58,753.35" fill="#111"/>
<line x1="85.4" y1="850.4" x2="85.4" y2="854.9" stroke="#111" stroke-width="1.1" />
<text transform="translate(85.5 862.6)" font-size="8.8" font-weight="bold" text-anchor="middle" fill="#111" >SLC6A19</text>
<line x1="140.5" y1="850.4" x2="140.5" y2="854.9" stroke="#111" stroke-width="1.1" />
<text transform="translate(140.6 862.6)" font-size="8.8" font-weight="bold" text-anchor="middle" fill="#111" >SLC25A12</text>
<line x1="195.7" y1="850.4" x2="195.7" y2="854.9" stroke="#111" stroke-width="1.1" />
<text transform="translate(194.9 862.6)" font-size="8.8" font-weight="bold" text-anchor="middle" fill="#111" >SLC1A1</text>
<text transform="translate(27.5 794.4) rotate(-90)" font-size="9.0" font-weight="bold" text-anchor="middle" fill="#111" >Relative mRNA expression/</text>
<text transform="translate(38.5 794.4) rotate(-90)" font-size="8.8" font-weight="bold" text-anchor="middle" fill="#111" >Hprt+Rplp0</text>
<text transform="translate(369.6 732.1)" font-size="8.9" font-weight="bold" text-anchor="middle" fill="#111" >Inorganic solute</text>
<line x1="300.5" y1="736.5" x2="439.7" y2="736.5" stroke="#111" stroke-width="1.0" />
<line x1="300.3" y1="741.5" x2="300.3" y2="849.6" stroke="#111" stroke-width="1.15" />
<line x1="299.7" y1="849.0" x2="433.2" y2="849.0" stroke="#111" stroke-width="1.45" />
<line x1="296.0" y1="742.1" x2="300.3" y2="742.1" stroke="#111" stroke-width="0.95" />
<text transform="translate(294.2 745.15)" font-size="8.6" font-weight="bold" text-anchor="end" fill="#111" >5</text>
<line x1="296.0" y1="763.6" x2="300.3" y2="763.6" stroke="#111" stroke-width="0.95" />
<text transform="translate(294.2 766.65)" font-size="8.6" font-weight="bold" text-anchor="end" fill="#111" >4</text>
<line x1="296.0" y1="785.2" x2="300.3" y2="785.2" stroke="#111" stroke-width="0.95" />
<text transform="translate(294.2 788.25)" font-size="8.6" font-weight="bold" text-anchor="end" fill="#111" >3</text>
<line x1="296.0" y1="806.4" x2="300.3" y2="806.4" stroke="#111" stroke-width="0.95" />
<text transform="translate(294.2 809.4499999999999)" font-size="8.6" font-weight="bold" text-anchor="end" fill="#111" >2</text>
<line x1="296.0" y1="828.0" x2="300.3" y2="828.0" stroke="#111" stroke-width="0.95" />
<text transform="translate(294.2 831.05)" font-size="8.6" font-weight="bold" text-anchor="end" fill="#111" >1</text>
<line x1="296.0" y1="849.0" x2="300.3" y2="849.0" stroke="#111" stroke-width="0.95" />
<text transform="translate(294.2 852.05)" font-size="8.6" font-weight="bold" text-anchor="end" fill="#111" >0</text>
<rect x="309.45" y="828.95" width="16.1" height="19.4" fill="#7b7bf6" stroke="#8a8a8a" stroke-width="0.9"/>
<rect x="327.75" y="763.6500000000001" width="15.699999999999966" height="84.69999999999996" fill="#f97a7a" stroke="#8a8a8a" stroke-width="0.9"/>
<rect x="345.95" y="818.95" width="15.700000000000022" height="29.4" fill="#fdbf80" stroke="#8a8a8a" stroke-width="0.9"/>
<rect x="372.05" y="828.5500000000001" width="16.1" height="19.799999999999976" fill="#7b7bf6" stroke="#8a8a8a" stroke-width="0.9"/>
<rect x="390.34999999999997" y="820.75" width="15.700000000000022" height="27.600000000000044" fill="#f97a7a" stroke="#8a8a8a" stroke-width="0.9"/>
<rect x="408.55" y="837.75" width="15.499999999999977" height="10.600000000000046" fill="#fdbf80" stroke="#8a8a8a" stroke-width="0.9"/>
<circle cx="311.4" cy="826.7" r="1.35" fill="#111" />
<circle cx="317.5" cy="827.8" r="1.35" fill="#111" />
<circle cx="323.2" cy="829.4" r="1.35" fill="#111" />
<path d="M335.60 759.7 V766.5 M331.45 759.7 H339.75 M331.45 766.5 H339.75" stroke="#1a1a1a" stroke-width="1" fill="none"/>
<circle cx="334.2" cy="758.6" r="1.35" fill="#111" />
<circle cx="336.4" cy="761" r="1.35" fill="#111" />
<circle cx="335.7" cy="769.6" r="1.35" fill="#111" />
<path d="M353.80 814.5 V821.6 M349.65 814.5 H357.95 M349.65 821.6 H357.95" stroke="#1a1a1a" stroke-width="1" fill="none"/>
<circle cx="352.1" cy="813.5" r="1.35" fill="#111" />
<circle cx="354.3" cy="815.2" r="1.35" fill="#111" />
<circle cx="353.4" cy="824.9" r="1.35" fill="#111" />
<path d="M380.10 824.9 V830.3 M375.85 824.9 H384.35 M375.85 830.3 H384.35" stroke="#1a1a1a" stroke-width="1" fill="none"/>
<circle cx="380.2" cy="823.9" r="1.35" fill="#111" />
<circle cx="380.2" cy="832.5" r="1.35" fill="#111" />
<circle cx="379" cy="827.5" r="1.35" fill="#111" />
<circle cx="392.6" cy="819" r="1.35" fill="#111" />
<circle cx="398" cy="819.6" r="1.35" fill="#111" />
<circle cx="403.5" cy="820.8" r="1.35" fill="#111" />
<path d="M416.30 835.8 V838.5 M412.20 835.8 H420.40 M412.20 838.5 H420.40" stroke="#1a1a1a" stroke-width="1" fill="none"/>
<circle cx="414.5" cy="834.3" r="1.35" fill="#111" />
<circle cx="416.7" cy="836.4" r="1.35" fill="#111" />
<circle cx="416" cy="839.8" r="1.35" fill="#111" />
<path d="M317.2 755.1999999999999 V752.8 H334.7 V755.1999999999999" fill="none" stroke="#333" stroke-width="1.05"/>
<polygon points="320.45,744.80 321.07,746.45 322.83,746.53 321.45,747.62 321.92,749.32 320.45,748.35 318.98,749.32 319.45,747.62 318.07,746.53 319.83,746.45" fill="#111"/>
<polygon points="325.95,744.80 326.57,746.45 328.33,746.53 326.95,747.62 327.42,749.32 325.95,748.35 324.48,749.32 324.95,747.62 323.57,746.53 325.33,746.45" fill="#111"/>
<polygon points="331.45,744.80 332.07,746.45 333.83,746.53 332.45,747.62 332.92,749.32 331.45,748.35 329.98,749.32 330.45,747.62 329.07,746.53 330.83,746.45" fill="#111"/>
<path d="M379.3 813.9 V811.5 H399.5 V813.9" fill="none" stroke="#333" stroke-width="1.05"/>
<polygon points="389.40,803.60 390.02,805.25 391.78,805.33 390.40,806.42 390.87,808.12 389.40,807.15 387.93,808.12 388.40,806.42 387.02,805.33 388.78,805.25" fill="#111"/>
<path d="M380.2 804.1 V801.7 H418.7 V804.1" fill="none" stroke="#333" stroke-width="1.05"/>
<polygon points="399.45,794.10 400.07,795.75 401.83,795.83 400.45,796.92 400.92,798.62 399.45,797.65 397.98,798.62 398.45,796.92 397.07,795.83 398.83,795.75" fill="#111"/>
<line x1="335.7" y1="849.0" x2="335.7" y2="853.5" stroke="#111" stroke-width="1.1" />
<text transform="translate(333.3 863.3)" font-size="9.1" font-weight="bold" text-anchor="middle" fill="#111" >CFTR</text>
<line x1="398.2" y1="849.0" x2="398.2" y2="853.5" stroke="#111" stroke-width="1.1" />
<text transform="translate(396.5 863.3)" font-size="9.1" font-weight="bold" text-anchor="middle" fill="#111" >SLC26A3</text>
<text transform="translate(271.7 794.8) rotate(-90)" font-size="9.0" font-weight="bold" text-anchor="middle" fill="#111" >Relative mRNA expression/</text>
<text transform="translate(283.4 794.8) rotate(-90)" font-size="8.8" font-weight="bold" text-anchor="middle" fill="#111" >Hprt+Rplp0</text>
<text transform="translate(595.8 732.1)" font-size="8.9" font-weight="bold" text-anchor="middle" fill="#111" >Cell junction</text>
<line x1="538.4" y1="736.5" x2="654.0" y2="736.5" stroke="#111" stroke-width="1.0" />
<line x1="529.9" y1="742.5" x2="529.9" y2="850.1" stroke="#111" stroke-width="1.15" />
<line x1="529.3" y1="849.5" x2="660.5" y2="849.5" stroke="#111" stroke-width="1.45" />
<line x1="524.9" y1="743.1" x2="529.9" y2="743.1" stroke="#111" stroke-width="0.95" />
<text transform="translate(523.2 746.15)" font-size="8.3" font-weight="bold" text-anchor="end" fill="#111" >2.0</text>
<line x1="524.9" y1="770.2" x2="529.9" y2="770.2" stroke="#111" stroke-width="0.95" />
<text transform="translate(523.2 773.25)" font-size="8.3" font-weight="bold" text-anchor="end" fill="#111" >1.5</text>
<line x1="524.9" y1="796.5" x2="529.9" y2="796.5" stroke="#111" stroke-width="0.95" />
<text transform="translate(523.2 799.55)" font-size="8.3" font-weight="bold" text-anchor="end" fill="#111" >1.0</text>
<line x1="524.9" y1="823.0" x2="529.9" y2="823.0" stroke="#111" stroke-width="0.95" />
<text transform="translate(523.2 826.05)" font-size="8.3" font-weight="bold" text-anchor="end" fill="#111" >0.5</text>
<line x1="524.9" y1="849.5" x2="529.9" y2="849.5" stroke="#111" stroke-width="0.95" />
<text transform="translate(523.2 852.55)" font-size="8.3" font-weight="bold" text-anchor="end" fill="#111" >0.0</text>
<rect x="538.75" y="796.1500000000001" width="15.50000000000009" height="52.69999999999995" fill="#7b7bf6" stroke="#8a8a8a" stroke-width="0.9"/>
<rect x="556.85" y="764.75" width="15.499999999999977" height="84.10000000000005" fill="#f97a7a" stroke="#8a8a8a" stroke-width="0.9"/>
<rect x="574.35" y="805.75" width="14.900000000000068" height="43.100000000000044" fill="#fdbf80" stroke="#8a8a8a" stroke-width="0.9"/>
<rect x="599.6500000000001" y="797.0500000000001" width="15.699999999999909" height="51.799999999999976" fill="#7b7bf6" stroke="#8a8a8a" stroke-width="0.9"/>
<rect x="617.5500000000001" y="774.5500000000001" width="15.499999999999977" height="74.29999999999998" fill="#f97a7a" stroke="#8a8a8a" stroke-width="0.9"/>
<rect x="635.45" y="793.0500000000001" width="15.300000000000045" height="55.799999999999976" fill="#fdbf80" stroke="#8a8a8a" stroke-width="0.9"/>
<path d="M546.50 788.0 V803.0 M542.40 788.0 H550.60 M542.40 803.0 H550.60" stroke="#1a1a1a" stroke-width="1" fill="none"/>
<circle cx="545" cy="788" r="1.35" fill="#111" />
<circle cx="548.1" cy="788" r="1.35" fill="#111" />
<circle cx="546.5" cy="810.3" r="1.35" fill="#111" />
<path d="M564.60 759.2 V768.3 M560.50 759.2 H568.70 M560.50 768.3 H568.70" stroke="#1a1a1a" stroke-width="1" fill="none"/>
<circle cx="564.2" cy="757" r="1.35" fill="#111" />
<circle cx="564.2" cy="762.8" r="1.35" fill="#111" />
<circle cx="564.2" cy="771.6" r="1.35" fill="#111" />
<path d="M581.80 798.4 V811.2 M577.85 798.4 H585.75 M577.85 811.2 H585.75" stroke="#1a1a1a" stroke-width="1" fill="none"/>
<circle cx="581.9" cy="793.5" r="1.35" fill="#111" />
<circle cx="581.9" cy="806.6" r="1.35" fill="#111" />
<circle cx="581.9" cy="814.8" r="1.35" fill="#111" />
<path d="M607.50 794.4 V798.0 M603.35 794.4 H611.65 M603.35 798.0 H611.65" stroke="#1a1a1a" stroke-width="1" fill="none"/>
<circle cx="606.2" cy="793.8" r="1.35" fill="#111" />
<circle cx="608.9" cy="795.7" r="1.35" fill="#111" />
<circle cx="608" cy="798.9" r="1.35" fill="#111" />
<path d="M625.30 769.2 V778.3 M621.20 769.2 H629.40 M621.20 778.3 H629.40" stroke="#1a1a1a" stroke-width="1" fill="none"/>
<circle cx="625.3" cy="767" r="1.35" fill="#111" />
<circle cx="625.3" cy="771.9" r="1.35" fill="#111" />
<circle cx="625.3" cy="782.9" r="1.35" fill="#111" />
<path d="M643.10 784.7 V799.7 M639.05 784.7 H647.15 M639.05 799.7 H647.15" stroke="#1a1a1a" stroke-width="1" fill="none"/>
<circle cx="643" cy="783.2" r="1.35" fill="#111" />
<circle cx="643" cy="807.2" r="1.35" fill="#111" />
<circle cx="643" cy="791" r="1.35" fill="#111" />
<path d="M545.4 755.6999999999999 V753.3 H563.6 V755.6999999999999" fill="none" stroke="#333" stroke-width="1.05"/>
<polygon points="554.50,745.70 555.12,747.35 556.88,747.43 555.50,748.52 555.97,750.22 554.50,749.25 553.03,750.22 553.50,748.52 552.12,747.43 553.88,747.35" fill="#111"/>
<path d="M607.4 763.9 V761.5 H625.7 V763.9" fill="none" stroke="#333" stroke-width="1.05"/>
<polygon points="616.55,753.60 617.17,755.25 618.93,755.33 617.55,756.42 618.02,758.12 616.55,757.15 615.08,758.12 615.55,756.42 614.17,755.33 615.93,755.25" fill="#111"/>
<line x1="564.6" y1="849.5" x2="564.6" y2="854.0" stroke="#111" stroke-width="1.1" />
<text transform="translate(564.7 863.3)" font-size="8.8" font-weight="bold" text-anchor="middle" fill="#111" >CLDN1</text>
<line x1="625.6" y1="849.5" x2="625.6" y2="854.0" stroke="#111" stroke-width="1.1" />
<text transform="translate(624.5 863.3)" font-size="8.8" font-weight="bold" text-anchor="middle" fill="#111" >ZO-1</text>
<text transform="translate(494.6 797.5) rotate(-90)" font-size="9.0" font-weight="bold" text-anchor="middle" fill="#111" >Relative mRNA expression/</text>
<text transform="translate(505.4 797.5) rotate(-90)" font-size="8.8" font-weight="bold" text-anchor="middle" fill="#111" >Hprt+Rplp0</text>
</svg>
</body></html>
